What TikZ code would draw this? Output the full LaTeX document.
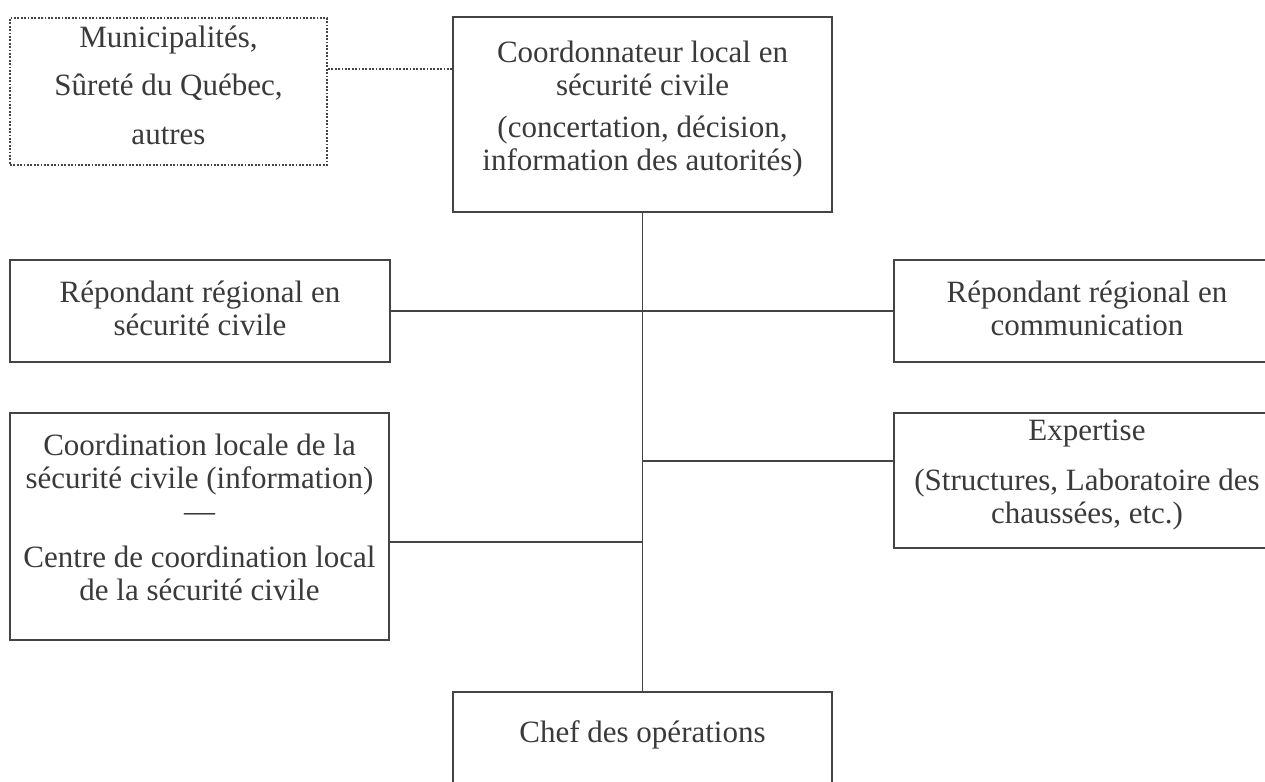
\documentclass[tikz,border=0pt]{standalone}
\usepackage{fontspec}
\setmainfont{Liberation Serif}
\usetikzlibrary{calc}
\definecolor{ink}{HTML}{3A3A3A}
\definecolor{lineink}{HTML}{444444}
\begin{document}
\begin{tikzpicture}[x=1pt,y=-1pt,
  box/.style={draw=lineink,line width=1.6pt,inner sep=0pt,rectangle},
  dotbox/.style={draw=lineink,line width=2pt,dash pattern=on 1.8pt off 1.6pt,inner sep=0pt,rectangle},
  txt/.style={text=ink,align=center,anchor=north,inner sep=0pt,font=\fontsize{31}{33}\selectfont},
  conn/.style={draw=lineink,line width=1.8pt},
  dotconn/.style={draw=lineink,line width=2pt,dash pattern=on 1.8pt off 1.6pt}]
\useasboundingbox (0,0) rectangle (1265,781);
\clip (0,0) rectangle (1265,781);
\fill[white] (0,0) rectangle (1265,781);

% boxes
\node[dotbox,minimum width=317pt,minimum height=147pt] (mun) at (168.5,91.5) {};
\node[box,minimum width=379pt,minimum height=195pt] (coord) at (642.5,114.5) {};
\node[box,minimum width=380pt,minimum height=102pt] (repl) at (200,311) {};
\node[box,minimum width=386pt,minimum height=102pt] (repr) at (1087,311) {};
\node[box,minimum width=379pt,minimum height=227pt] (cloc) at (199.5,526.5) {};
\node[box,minimum width=386pt,minimum height=135pt] (expe) at (1087,480.5) {};
\node[box,minimum width=379pt,minimum height=108pt] (chef) at (642.5,746) {};

% texts
\node[txt] (tmun) at (168.5,24) {\strut Municipalités,\\[15pt]Sûreté du Québec,\\[16pt]autres};
\node[txt] (tcoord) at (642.5,39) {\strut Coordonnateur local en\\sécurité civile\\[9pt](concertation, décision,\\information des autorités)};
\node[txt] (trepl) at (200,279) {\strut Répondant régional en\\sécurité civile};
\node[txt] (trepr) at (1087,279) {\strut Répondant régional en\\communication};
\node[txt] (tcloc) at (199.5,432) {\strut Coordination locale de la\\sécurité civile (information)\\—\\[13pt]Centre de coordination local\\de la sécurité civile};
\node[txt] (texpe) at (1087,417) {\strut Expertise\\[17pt](Structures, Laboratoire des\\chaussées, etc.)};
\node[txt] (tchef) at (642.5,719) {\strut Chef des opérations};

% connectors
\coordinate (dl) at ($(mun.north east)!0.35!(mun.south east)$);
\draw[dotconn] (dl) -- (dl -| coord.west);
\draw[conn] (coord.south) -- (chef.north);
\draw[conn] (repl.east) -- (repr.west);
\coordinate (ex) at ($(expe.north west)!0.36!(expe.south west)$);
\draw[conn] (ex) -- (ex -| coord.south);
\coordinate (cx) at ($(cloc.north east)!0.568!(cloc.south east)$);
\draw[conn] (cx) -- (cx -| coord.south);
\end{tikzpicture}
\end{document}
